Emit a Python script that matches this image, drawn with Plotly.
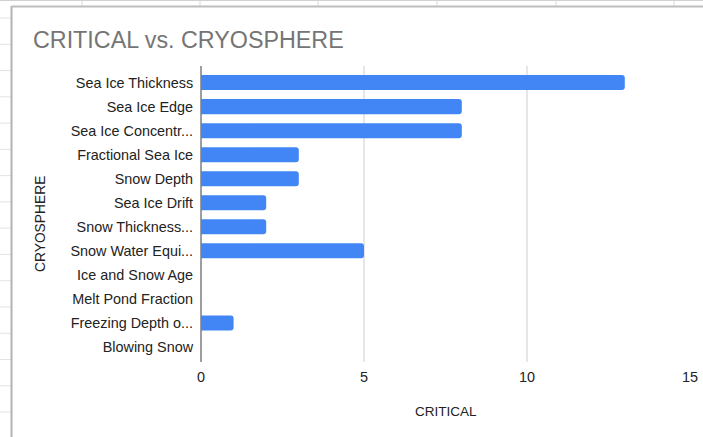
import plotly.graph_objects as go

# Chart data
categories = [
    "Sea Ice Thickness",
    "Sea Ice Edge",
    "Sea Ice Concentr...",
    "Fractional Sea Ice",
    "Snow Depth",
    "Sea Ice Drift",
    "Snow Thickness...",
    "Snow Water Equi...",
    "Ice and Snow Age",
    "Melt Pond Fraction",
    "Freezing Depth o...",
    "Blowing Snow",
]
critical = [13, 8, 8, 3, 3, 2, 2, 5, 0, 0, 1, 0]
x_ticks = [0, 5, 10, 15]

W, H = 703, 437
PL, PR, PT, PB = 201, 690, 66, 362  # plot area in pixels


def px(x):
    return (x - PL) / (PR - PL)


def py(y):
    return (PB - y) / (PB - PT)


FONT = "Liberation Sans, Arial, sans-serif"

fig = go.Figure(
    go.Bar(
        x=critical,
        y=categories,
        orientation="h",
        marker=dict(color="#4285f4", cornerradius=3, line=dict(width=0)),
        hoverinfo="x+y",
    )
)

shapes = []
# Spreadsheet cell lines around the chart card
cell_line = dict(color="#e3e3e3", width=1)
for k in range(16):
    yy = 18 + 26.27 * k
    shapes.append(dict(type="line", xref="paper", yref="paper",
                       x0=px(0), x1=px(11), y0=py(yy), y1=py(yy), line=cell_line))
shapes.append(dict(type="line", xref="paper", yref="paper",
                   x0=px(0), x1=px(W), y0=py(0.5), y1=py(0.5),
                   line=dict(color="#d0d0d0", width=1)))
for xx in [82, 200, 318, 437, 556, 674]:
    shapes.append(dict(type="line", xref="paper", yref="paper",
                       x0=px(xx), x1=px(xx), y0=py(0), y1=py(6),
                       line=dict(color="#d8d8d8", width=1)))
# Chart card border
shapes.append(dict(type="line", xref="paper", yref="paper",
                   x0=px(11.5), x1=px(11.5), y0=py(6), y1=py(H),
                   line=dict(color="#b4b4b4", width=2)))
shapes.append(dict(type="line", xref="paper", yref="paper",
                   x0=px(11.5), x1=px(W), y0=py(6.5), y1=py(6.5),
                   line=dict(color="#bdbdbd", width=2)))

fig.update_layout(
    width=W,
    height=H,
    margin=dict(l=PL, r=W - PR, t=PT, b=H - PB, pad=0, autoexpand=False),
    paper_bgcolor="white",
    plot_bgcolor="white",
    showlegend=False,
    bargap=0.375,
    font=dict(family=FONT, size=14.4, color="#222222"),
    title=dict(
        text="CRITICAL vs. CRYOSPHERE",
        font=dict(family=FONT, size=23.3, color="#757575"),
        xref="container", yref="container",
        x=33 / W, xanchor="left",
        y=1 - 40 / H, yanchor="middle",
    ),
    xaxis=dict(
        range=[0, 15],
        tickvals=x_ticks,
        ticktext=[str(v) for v in x_ticks],
        showgrid=True,
        gridcolor="#e6e6e6",
        gridwidth=2,
        zeroline=True,
        zerolinecolor="#9e9e9e",
        zerolinewidth=2,
        showline=False,
        ticks="outside",
        ticklen=2,
        tickcolor="rgba(0,0,0,0)",
        tickfont=dict(size=14.4, color="#222222"),
        automargin=False,
        fixedrange=True,
    ),
    yaxis=dict(
        type="category",
        categoryorder="array",
        categoryarray=categories,
        range=[11.625, -0.69],
        showgrid=False,
        zeroline=False,
        showline=False,
        ticks="outside",
        ticklen=4,
        tickcolor="rgba(0,0,0,0)",
        tickfont=dict(size=14.4, color="#222222"),
        automargin=False,
        fixedrange=True,
    ),
    shapes=shapes,
    annotations=[
        dict(text="CRITICAL", xref="paper", yref="paper",
             x=px(446), y=py(411), xanchor="center", yanchor="middle",
             showarrow=False, font=dict(family=FONT, size=13.5, color="#222222")),
        dict(text="CRYOSPHERE", xref="paper", yref="paper",
             x=px(40), y=py(224), xanchor="center", yanchor="middle",
             textangle=-90, showarrow=False,
             font=dict(family=FONT, size=13.8, color="#222222")),
    ],
)

fig.write_html("out.html")
